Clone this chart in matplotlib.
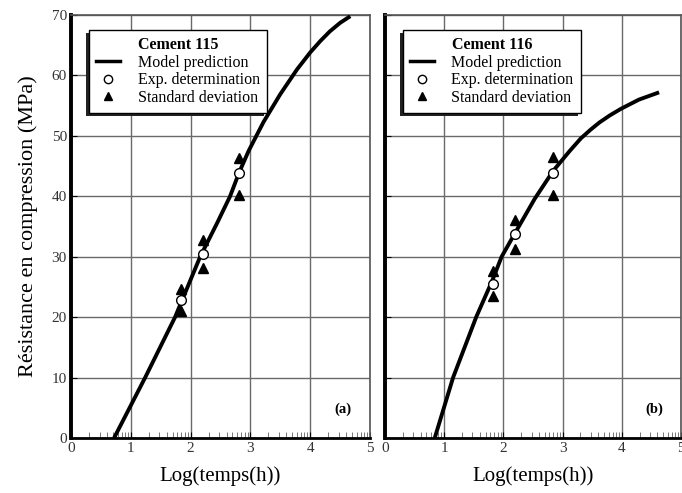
import numpy as np
import matplotlib
matplotlib.use("Agg")
import matplotlib.pyplot as plt
from matplotlib.patches import Rectangle
from matplotlib.lines import Line2D
from matplotlib.transforms import IdentityTransform

plt.rcParams['font.family'] = ['Liberation Serif', 'DejaVu Serif']

# ---- data ----
model_x_a = [0.72, 1.24, 1.74, 2.16, 2.44, 2.66, 2.81, 2.97, 3.1, 3.22, 3.5, 3.78, 4.0, 4.17, 4.33, 4.5, 4.67]
model_y_a = [0.0, 10.0, 20.0, 30.0, 35.5, 40.0, 43.9, 47.5, 50.0, 52.3, 56.9, 61.0, 63.8, 65.7, 67.3, 68.7, 69.8]
exp_x_a = [1.84, 2.20, 2.81]
exp_y_a = [22.8, 30.4, 43.9]
sd_hi_a = [24.7, 32.8, 46.4]
sd_lo_a = [21.0, 28.1, 40.2]

model_x_b = [0.84, 1.15, 1.54, 1.81, 1.97, 2.19, 2.53, 2.84, 3.12, 3.31, 3.47, 3.62, 3.8, 3.99, 4.15, 4.29, 4.46, 4.63]
model_y_b = [0.0, 10.0, 20.0, 26.0, 30.0, 33.8, 39.6, 44.2, 47.5, 49.6, 51.0, 52.2, 53.4, 54.5, 55.3, 56.0, 56.6, 57.2]
exp_x_b = [1.82, 2.19, 2.84]
exp_y_b = [25.5, 33.8, 43.9]
sd_hi_b = [27.6, 36.1, 46.5]
sd_lo_b = [23.5, 31.3, 40.2]

panels = [
    ("Cement 115", "(a)", model_x_a, model_y_a, exp_x_a, exp_y_a, sd_hi_a, sd_lo_a),
    ("Cement 116", "(b)", model_x_b, model_y_b, exp_x_b, exp_y_b, sd_hi_b, sd_lo_b),
]
x_ticks = [0, 1, 2, 3, 4, 5]
y_ticks = [0, 10, 20, 30, 40, 50, 60, 70]
legend_labels = ["Model prediction", "Exp. determination", "Standard deviation"]

W, H = 682, 493
fig = plt.figure(figsize=(W / 100, H / 100), dpi=100)
rects = [(71, 15, 370, 438), (385, 15, 681, 438)]
axes = []
for (l, t, r, b) in rects:
    ax = fig.add_axes([l / W, 1 - b / H, (r - l) / W, (b - t) / H])
    axes.append(ax)

minor = [n + np.log10(k) for n in range(5) for k in range(2, 10)]

legs = []
for i, (ax, p) in enumerate(zip(axes, panels)):
    title, tag, mx, my, ex, ey, hi, lo = p
    ax.set_xlim(0, 5)
    ax.set_ylim(0, 70)
    ax.set_xticks(x_ticks)
    ax.set_yticks(y_ticks)
    ax.set_xticks(minor, minor=True)
    ax.grid(True, which='major', color='#6a6a6a', lw=1.0)
    ax.set_axisbelow(True)
    ax.tick_params(axis='x', which='minor', direction='in', length=4, width=0.7, color='#777777')
    ax.tick_params(axis='both', which='major', direction='in', length=4, width=0.8,
                   labelsize=11, labelcolor='#333333', pad=3)
    if i == 1:
        ax.tick_params(axis='y', labelleft=False)
    for s in ['top', 'right']:
        ax.spines[s].set_color('#555555')
        ax.spines[s].set_linewidth(1.2)
    ax.spines['left'].set_linewidth(2.8)
    ax.spines['bottom'].set_linewidth(2.0)
    ax.spines['left'].set_color('black')
    ax.spines['bottom'].set_color('black')

    ax.plot(mx, my, color='black', lw=2.8, solid_capstyle='butt', solid_joinstyle='round', zorder=3)
    ax.plot(ex, hi, linestyle='none', marker='^', ms=6.5, color='black', zorder=4)
    ax.plot(ex, lo, linestyle='none', marker='^', ms=6.5, color='black', zorder=4)
    ax.plot(ex, ey, linestyle='none', marker='o', ms=7, mfc='white', mec='black', mew=1.0, zorder=5)

    ax.text(4.55, 4.8, tag, fontsize=10.5, fontweight='bold', ha='center', va='center')
    ax.set_xlabel("Log(temps(h))", fontsize=15, labelpad=8)

    handles = [
        Line2D([], [], color='black', lw=2.5),
        Line2D([], [], linestyle='none', marker='o', ms=6, mfc='white', mec='black'),
        Line2D([], [], linestyle='none', marker='^', ms=6, color='black'),
    ]
    leg = ax.legend(handles, legend_labels, title=title, loc='upper left',
                    bbox_to_anchor=(0.06, 0.965), fontsize=11.5,
                    title_fontproperties={'weight': 'bold', 'size': 11.5},
                    frameon=True, fancybox=False, edgecolor='black', framealpha=1,
                    handlelength=1.5, handletextpad=1.1, borderpad=0.45,
                    labelspacing=0.1, borderaxespad=0)
    leg.get_frame().set_linewidth(1.0)
    leg.set_zorder(10)
    legs.append(leg)

axes[0].set_ylabel("Résistance en compression (MPa)", fontsize=16, labelpad=10)

fig.canvas.draw()
for ax, leg in zip(axes, legs):
    bb = leg.get_window_extent()
    sh = Rectangle((bb.x0 - 3, bb.y0 - 3), bb.width, bb.height, transform=IdentityTransform(),
                   facecolor='#222222', edgecolor='none', zorder=9, clip_on=False)
    ax.add_artist(sh)

fig.savefig("out.png", dpi=100)
